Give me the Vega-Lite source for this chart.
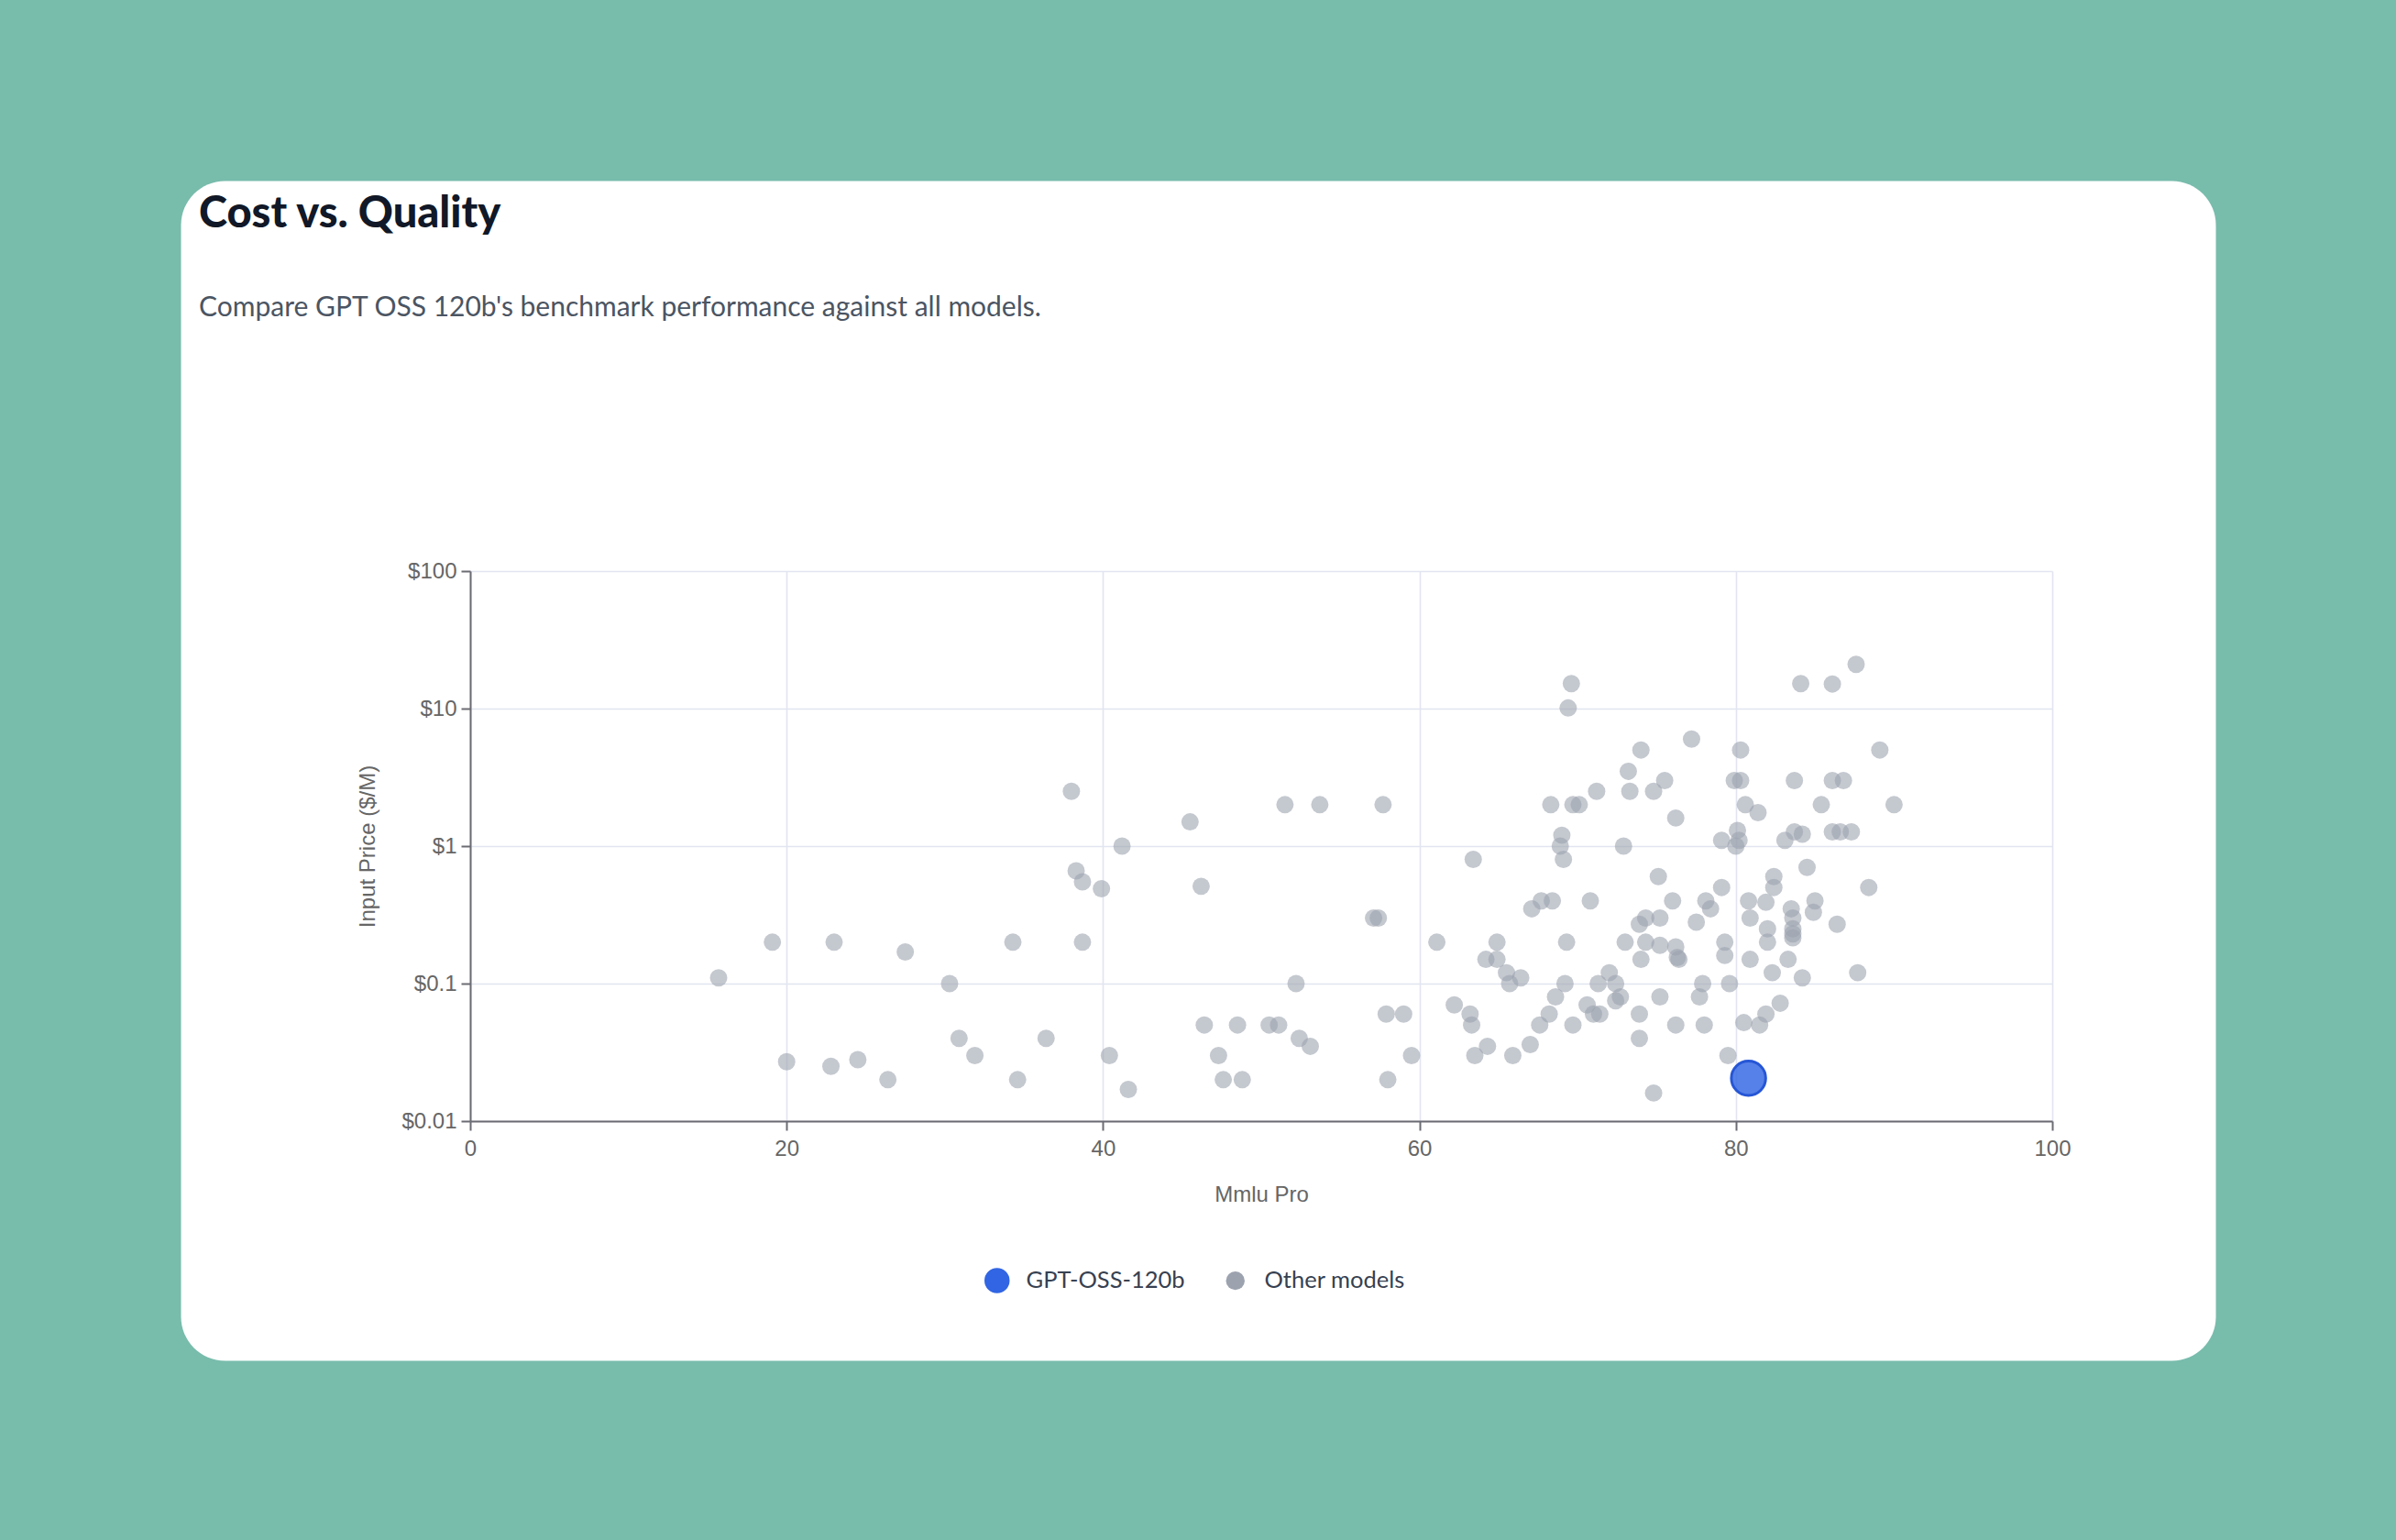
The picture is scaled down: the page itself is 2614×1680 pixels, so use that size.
{
  "$schema": "https://vega.github.io/schema/vega-lite/v6.json",
  "width": 2220,
  "height": 1287,
  "autosize": {"type": "none"},
  "padding": {"left": 197, "top": 197, "right": 197, "bottom": 196},
  "background": "#78bcac",
  "config": {
    "view": {"fill": "#ffffff", "stroke": "transparent", "cornerRadius": 48},
    "axis": {
      "domainColor": "#6b6b73", "domainWidth": 2, "tickColor": "#6b6b73", "tickWidth": 2, "tickSize": 10,
      "gridColor": "#e2e5f0", "gridWidth": 1.6,
      "labelFont": "Liberation Sans", "labelFontSize": 24, "labelColor": "#666666", "labelPadding": 8, "labelFlush": false,
      "titleFont": "Liberation Sans", "titleFontSize": 24, "titleColor": "#666666", "titleFontWeight": "normal"
    }
  },
  "title": {
    "text": "Cost vs. Quality",
    "subtitle": "Compare GPT OSS 120b's benchmark performance against all models.",
    "anchor": "start", "frame": "group", "offset": -155, "dx": 20,
    "font": "Lato", "fontSize": 47, "fontWeight": 900, "color": "#111827",
    "subtitleFont": "Lato", "subtitleFontSize": 30, "subtitleColor": "#4b5563", "subtitlePadding": 63
  },
  "data": {"values": [
    {"mmlu_pro": 15.7, "input_price": 0.11, "model": "Other models"},
    {"mmlu_pro": 19.1, "input_price": 0.2, "model": "Other models"},
    {"mmlu_pro": 20.0, "input_price": 0.027, "model": "Other models"},
    {"mmlu_pro": 22.8, "input_price": 0.025, "model": "Other models"},
    {"mmlu_pro": 23.0, "input_price": 0.2, "model": "Other models"},
    {"mmlu_pro": 24.5, "input_price": 0.028, "model": "Other models"},
    {"mmlu_pro": 26.4, "input_price": 0.02, "model": "Other models"},
    {"mmlu_pro": 27.5, "input_price": 0.17, "model": "Other models"},
    {"mmlu_pro": 30.3, "input_price": 0.1, "model": "Other models"},
    {"mmlu_pro": 30.9, "input_price": 0.04, "model": "Other models"},
    {"mmlu_pro": 31.9, "input_price": 0.03, "model": "Other models"},
    {"mmlu_pro": 34.3, "input_price": 0.2, "model": "Other models"},
    {"mmlu_pro": 34.6, "input_price": 0.02, "model": "Other models"},
    {"mmlu_pro": 36.4, "input_price": 0.04, "model": "Other models"},
    {"mmlu_pro": 38.0, "input_price": 2.5, "model": "Other models"},
    {"mmlu_pro": 38.3, "input_price": 0.66, "model": "Other models"},
    {"mmlu_pro": 38.7, "input_price": 0.55, "model": "Other models"},
    {"mmlu_pro": 38.7, "input_price": 0.2, "model": "Other models"},
    {"mmlu_pro": 39.9, "input_price": 0.49, "model": "Other models"},
    {"mmlu_pro": 40.4, "input_price": 0.03, "model": "Other models"},
    {"mmlu_pro": 41.2, "input_price": 1.0, "model": "Other models"},
    {"mmlu_pro": 41.6, "input_price": 0.017, "model": "Other models"},
    {"mmlu_pro": 45.5, "input_price": 1.5, "model": "Other models"},
    {"mmlu_pro": 46.2, "input_price": 0.51, "model": "Other models"},
    {"mmlu_pro": 46.4, "input_price": 0.05, "model": "Other models"},
    {"mmlu_pro": 47.3, "input_price": 0.03, "model": "Other models"},
    {"mmlu_pro": 47.6, "input_price": 0.02, "model": "Other models"},
    {"mmlu_pro": 48.5, "input_price": 0.05, "model": "Other models"},
    {"mmlu_pro": 48.8, "input_price": 0.02, "model": "Other models"},
    {"mmlu_pro": 50.5, "input_price": 0.05, "model": "Other models"},
    {"mmlu_pro": 51.1, "input_price": 0.05, "model": "Other models"},
    {"mmlu_pro": 51.5, "input_price": 2.0, "model": "Other models"},
    {"mmlu_pro": 52.2, "input_price": 0.1, "model": "Other models"},
    {"mmlu_pro": 52.4, "input_price": 0.04, "model": "Other models"},
    {"mmlu_pro": 53.1, "input_price": 0.035, "model": "Other models"},
    {"mmlu_pro": 53.7, "input_price": 2.0, "model": "Other models"},
    {"mmlu_pro": 57.1, "input_price": 0.3, "model": "Other models"},
    {"mmlu_pro": 57.4, "input_price": 0.3, "model": "Other models"},
    {"mmlu_pro": 57.7, "input_price": 2.0, "model": "Other models"},
    {"mmlu_pro": 57.9, "input_price": 0.06, "model": "Other models"},
    {"mmlu_pro": 58.0, "input_price": 0.02, "model": "Other models"},
    {"mmlu_pro": 59.0, "input_price": 0.06, "model": "Other models"},
    {"mmlu_pro": 59.5, "input_price": 0.03, "model": "Other models"},
    {"mmlu_pro": 61.1, "input_price": 0.2, "model": "Other models"},
    {"mmlu_pro": 62.2, "input_price": 0.07, "model": "Other models"},
    {"mmlu_pro": 63.2, "input_price": 0.06, "model": "Other models"},
    {"mmlu_pro": 63.3, "input_price": 0.05, "model": "Other models"},
    {"mmlu_pro": 63.4, "input_price": 0.8, "model": "Other models"},
    {"mmlu_pro": 63.5, "input_price": 0.03, "model": "Other models"},
    {"mmlu_pro": 64.2, "input_price": 0.15, "model": "Other models"},
    {"mmlu_pro": 64.3, "input_price": 0.035, "model": "Other models"},
    {"mmlu_pro": 64.9, "input_price": 0.15, "model": "Other models"},
    {"mmlu_pro": 64.9, "input_price": 0.2, "model": "Other models"},
    {"mmlu_pro": 65.5, "input_price": 0.12, "model": "Other models"},
    {"mmlu_pro": 65.7, "input_price": 0.1, "model": "Other models"},
    {"mmlu_pro": 65.9, "input_price": 0.03, "model": "Other models"},
    {"mmlu_pro": 66.4, "input_price": 0.11, "model": "Other models"},
    {"mmlu_pro": 67.0, "input_price": 0.036, "model": "Other models"},
    {"mmlu_pro": 67.1, "input_price": 0.35, "model": "Other models"},
    {"mmlu_pro": 67.6, "input_price": 0.05, "model": "Other models"},
    {"mmlu_pro": 67.7, "input_price": 0.4, "model": "Other models"},
    {"mmlu_pro": 68.2, "input_price": 0.06, "model": "Other models"},
    {"mmlu_pro": 68.3, "input_price": 2.0, "model": "Other models"},
    {"mmlu_pro": 68.4, "input_price": 0.4, "model": "Other models"},
    {"mmlu_pro": 68.6, "input_price": 0.08, "model": "Other models"},
    {"mmlu_pro": 69.6, "input_price": 15.2, "model": "Other models"},
    {"mmlu_pro": 69.4, "input_price": 10.1, "model": "Other models"},
    {"mmlu_pro": 77.2, "input_price": 6.0, "model": "Other models"},
    {"mmlu_pro": 74.0, "input_price": 5.0, "model": "Other models"},
    {"mmlu_pro": 73.2, "input_price": 3.5, "model": "Other models"},
    {"mmlu_pro": 75.5, "input_price": 3.0, "model": "Other models"},
    {"mmlu_pro": 73.3, "input_price": 2.5, "model": "Other models"},
    {"mmlu_pro": 74.8, "input_price": 2.5, "model": "Other models"},
    {"mmlu_pro": 71.2, "input_price": 2.5, "model": "Other models"},
    {"mmlu_pro": 79.9, "input_price": 3.0, "model": "Other models"},
    {"mmlu_pro": 69.7, "input_price": 2.0, "model": "Other models"},
    {"mmlu_pro": 70.1, "input_price": 2.0, "model": "Other models"},
    {"mmlu_pro": 76.2, "input_price": 1.6, "model": "Other models"},
    {"mmlu_pro": 69.0, "input_price": 1.2, "model": "Other models"},
    {"mmlu_pro": 68.9, "input_price": 1.0, "model": "Other models"},
    {"mmlu_pro": 69.1, "input_price": 0.8, "model": "Other models"},
    {"mmlu_pro": 72.9, "input_price": 1.0, "model": "Other models"},
    {"mmlu_pro": 79.1, "input_price": 1.1, "model": "Other models"},
    {"mmlu_pro": 75.1, "input_price": 0.6, "model": "Other models"},
    {"mmlu_pro": 79.1, "input_price": 0.5, "model": "Other models"},
    {"mmlu_pro": 70.8, "input_price": 0.4, "model": "Other models"},
    {"mmlu_pro": 76.0, "input_price": 0.4, "model": "Other models"},
    {"mmlu_pro": 78.1, "input_price": 0.4, "model": "Other models"},
    {"mmlu_pro": 78.4, "input_price": 0.35, "model": "Other models"},
    {"mmlu_pro": 74.3, "input_price": 0.3, "model": "Other models"},
    {"mmlu_pro": 75.2, "input_price": 0.3, "model": "Other models"},
    {"mmlu_pro": 73.9, "input_price": 0.27, "model": "Other models"},
    {"mmlu_pro": 77.5, "input_price": 0.28, "model": "Other models"},
    {"mmlu_pro": 69.3, "input_price": 0.2, "model": "Other models"},
    {"mmlu_pro": 73.0, "input_price": 0.2, "model": "Other models"},
    {"mmlu_pro": 74.3, "input_price": 0.2, "model": "Other models"},
    {"mmlu_pro": 75.2, "input_price": 0.19, "model": "Other models"},
    {"mmlu_pro": 76.2, "input_price": 0.185, "model": "Other models"},
    {"mmlu_pro": 76.4, "input_price": 0.15, "model": "Other models"},
    {"mmlu_pro": 76.3, "input_price": 0.155, "model": "Other models"},
    {"mmlu_pro": 79.3, "input_price": 0.2, "model": "Other models"},
    {"mmlu_pro": 74.0, "input_price": 0.15, "model": "Other models"},
    {"mmlu_pro": 79.3, "input_price": 0.16, "model": "Other models"},
    {"mmlu_pro": 69.2, "input_price": 0.1, "model": "Other models"},
    {"mmlu_pro": 71.3, "input_price": 0.1, "model": "Other models"},
    {"mmlu_pro": 72.0, "input_price": 0.12, "model": "Other models"},
    {"mmlu_pro": 72.4, "input_price": 0.1, "model": "Other models"},
    {"mmlu_pro": 77.9, "input_price": 0.1, "model": "Other models"},
    {"mmlu_pro": 79.6, "input_price": 0.1, "model": "Other models"},
    {"mmlu_pro": 72.7, "input_price": 0.08, "model": "Other models"},
    {"mmlu_pro": 72.4, "input_price": 0.075, "model": "Other models"},
    {"mmlu_pro": 75.2, "input_price": 0.08, "model": "Other models"},
    {"mmlu_pro": 77.7, "input_price": 0.08, "model": "Other models"},
    {"mmlu_pro": 70.6, "input_price": 0.07, "model": "Other models"},
    {"mmlu_pro": 71.0, "input_price": 0.06, "model": "Other models"},
    {"mmlu_pro": 71.4, "input_price": 0.06, "model": "Other models"},
    {"mmlu_pro": 73.9, "input_price": 0.06, "model": "Other models"},
    {"mmlu_pro": 69.7, "input_price": 0.05, "model": "Other models"},
    {"mmlu_pro": 76.2, "input_price": 0.05, "model": "Other models"},
    {"mmlu_pro": 78.0, "input_price": 0.05, "model": "Other models"},
    {"mmlu_pro": 73.9, "input_price": 0.04, "model": "Other models"},
    {"mmlu_pro": 79.5, "input_price": 0.03, "model": "Other models"},
    {"mmlu_pro": 74.8, "input_price": 0.016, "model": "Other models"},
    {"mmlu_pro": 80.3, "input_price": 5.0, "model": "Other models"},
    {"mmlu_pro": 80.3, "input_price": 3.0, "model": "Other models"},
    {"mmlu_pro": 80.6, "input_price": 2.0, "model": "Other models"},
    {"mmlu_pro": 81.4, "input_price": 1.75, "model": "Other models"},
    {"mmlu_pro": 80.1, "input_price": 1.3, "model": "Other models"},
    {"mmlu_pro": 80.2, "input_price": 1.1, "model": "Other models"},
    {"mmlu_pro": 80.0, "input_price": 1.0, "model": "Other models"},
    {"mmlu_pro": 83.1, "input_price": 1.1, "model": "Other models"},
    {"mmlu_pro": 83.7, "input_price": 3.0, "model": "Other models"},
    {"mmlu_pro": 83.7, "input_price": 1.27, "model": "Other models"},
    {"mmlu_pro": 84.1, "input_price": 15.2, "model": "Other models"},
    {"mmlu_pro": 84.2, "input_price": 1.22, "model": "Other models"},
    {"mmlu_pro": 84.5, "input_price": 0.7, "model": "Other models"},
    {"mmlu_pro": 82.4, "input_price": 0.6, "model": "Other models"},
    {"mmlu_pro": 82.4, "input_price": 0.5, "model": "Other models"},
    {"mmlu_pro": 80.8, "input_price": 0.4, "model": "Other models"},
    {"mmlu_pro": 81.9, "input_price": 0.39, "model": "Other models"},
    {"mmlu_pro": 83.5, "input_price": 0.35, "model": "Other models"},
    {"mmlu_pro": 80.9, "input_price": 0.3, "model": "Other models"},
    {"mmlu_pro": 83.6, "input_price": 0.3, "model": "Other models"},
    {"mmlu_pro": 82.0, "input_price": 0.25, "model": "Other models"},
    {"mmlu_pro": 83.6, "input_price": 0.25, "model": "Other models"},
    {"mmlu_pro": 83.6, "input_price": 0.23, "model": "Other models"},
    {"mmlu_pro": 83.6, "input_price": 0.215, "model": "Other models"},
    {"mmlu_pro": 82.0, "input_price": 0.2, "model": "Other models"},
    {"mmlu_pro": 80.9, "input_price": 0.15, "model": "Other models"},
    {"mmlu_pro": 83.3, "input_price": 0.15, "model": "Other models"},
    {"mmlu_pro": 82.3, "input_price": 0.12, "model": "Other models"},
    {"mmlu_pro": 84.2, "input_price": 0.11, "model": "Other models"},
    {"mmlu_pro": 80.5, "input_price": 0.052, "model": "Other models"},
    {"mmlu_pro": 81.5, "input_price": 0.05, "model": "Other models"},
    {"mmlu_pro": 81.9, "input_price": 0.06, "model": "Other models"},
    {"mmlu_pro": 82.8, "input_price": 0.072, "model": "Other models"},
    {"mmlu_pro": 86.1, "input_price": 15.1, "model": "Other models"},
    {"mmlu_pro": 87.6, "input_price": 21.0, "model": "Other models"},
    {"mmlu_pro": 89.1, "input_price": 5.0, "model": "Other models"},
    {"mmlu_pro": 86.1, "input_price": 3.0, "model": "Other models"},
    {"mmlu_pro": 86.8, "input_price": 3.0, "model": "Other models"},
    {"mmlu_pro": 85.4, "input_price": 2.0, "model": "Other models"},
    {"mmlu_pro": 90.0, "input_price": 2.0, "model": "Other models"},
    {"mmlu_pro": 86.1, "input_price": 1.27, "model": "Other models"},
    {"mmlu_pro": 86.6, "input_price": 1.27, "model": "Other models"},
    {"mmlu_pro": 87.3, "input_price": 1.27, "model": "Other models"},
    {"mmlu_pro": 88.4, "input_price": 0.5, "model": "Other models"},
    {"mmlu_pro": 85.0, "input_price": 0.4, "model": "Other models"},
    {"mmlu_pro": 84.9, "input_price": 0.33, "model": "Other models"},
    {"mmlu_pro": 86.4, "input_price": 0.27, "model": "Other models"},
    {"mmlu_pro": 87.7, "input_price": 0.12, "model": "Other models"},
    {"mmlu_pro": 80.8, "input_price": 0.0205, "model": "GPT-OSS-120b"}
  ]},
  "encoding": {
    "y": {
      "field": "input_price", "type": "quantitative",
      "scale": {"type": "log", "domain": [0.01, 100], "range": [1026, 426], "nice": false},
      "axis": {"values": [0.01, 0.1, 1, 10, 100], "labelExpr": "'$' + datum.value", "title": "Input Price ($/M)", "offset": -316, "labelPadding": 5, "titlePadding": 24}
    },
    "color": {
      "field": "model", "type": "nominal",
      "scale": {"domain": ["GPT-OSS-120b", "Other models"], "range": ["#3165e3", "#9ca3af"]},
      "legend": {
        "title": null, "orient": "none", "legendX": 878, "legendY": 1187, "direction": "horizontal",
        "labelFont": "Lato", "labelFontSize": 25.5, "labelColor": "#374151", "labelLimit": 500, "columnPadding": 42, "labelOffset": 19,
        "symbolType": "circle", "symbolSize": 600, "padding": 0,
        "encode": {"symbols": {"update": {"size": {"signal": "datum.value === 'GPT-OSS-120b' ? 755 : 415"}, "fillOpacity": {"value": 1}, "opacity": {"value": 1}, "strokeWidth": {"value": 0}}}}
      }
    }
  },
  "layer": [
    {
      "transform": [{"filter": "datum.model === 'Other models'"}],
      "mark": {"type": "point", "filled": true, "size": 360, "fillOpacity": 0.6, "strokeWidth": 0},
      "encoding": {
        "x": {
          "field": "mmlu_pro", "type": "quantitative",
          "scale": {"domain": [0, 100], "range": [316, 2042], "nice": false, "zero": false},
          "axis": {"orient": "top", "values": [0, 20, 40, 60, 80, 100], "grid": true, "labels": false, "ticks": false, "domain": false, "title": null, "offset": -426}
        }
      }
    },
    {
      "transform": [{"filter": "datum.model === 'GPT-OSS-120b'"}],
      "mark": {"type": "point", "filled": true, "size": 1400, "fillOpacity": 0.82, "stroke": "#2656d6", "strokeWidth": 3},
      "encoding": {
        "x": {
          "field": "mmlu_pro", "type": "quantitative",
          "scale": {"domain": [0, 100], "range": [316, 2042], "nice": false, "zero": false},
          "axis": {"orient": "bottom", "values": [0, 20, 40, 60, 80, 100], "grid": false, "title": "Mmlu Pro", "offset": -261, "titlePadding": 26}
        }
      }
    }
  ],
  "resolve": {"axis": {"x": "independent"}}
}
